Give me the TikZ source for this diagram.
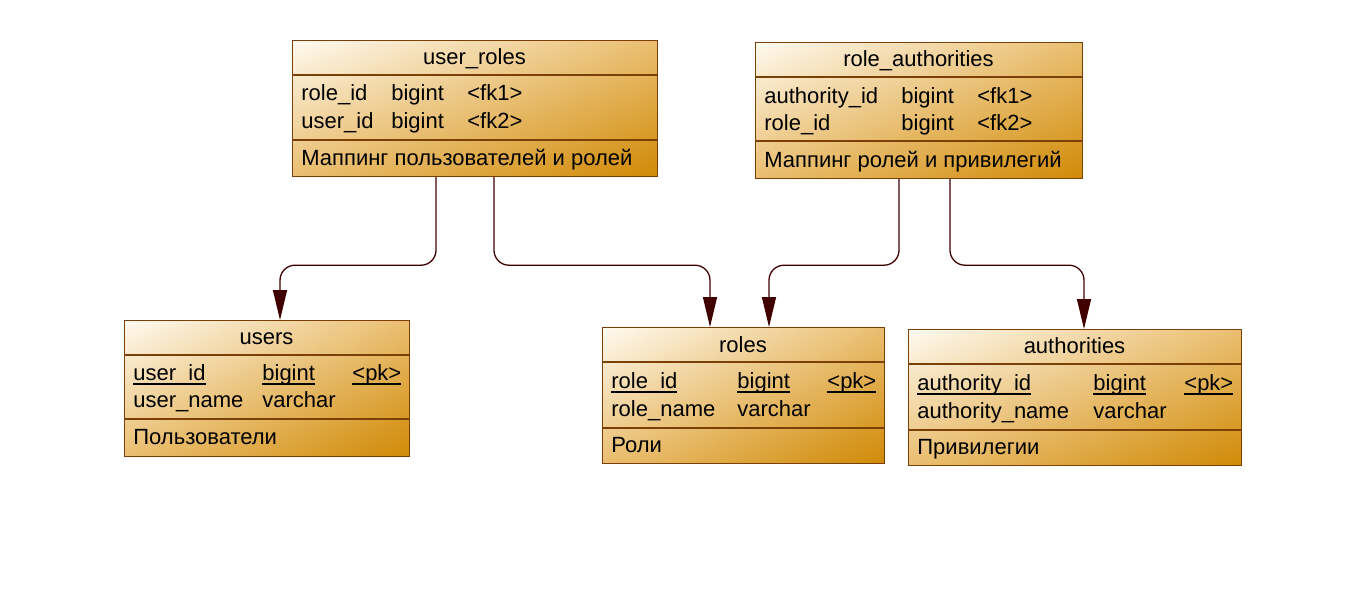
\documentclass[tikz,border=0pt]{standalone}
\usepackage{fontspec}
\setmainfont{Liberation Sans}
\usepackage{tikz}
\usetikzlibrary{arrows.meta,calc,shadings}
\definecolor{tblline}{RGB}{122,64,8}
\definecolor{tbltop}{RGB}{255,250,240}
\definecolor{tblmid}{RGB}{234,190,112}
\definecolor{tblbot}{RGB}{208,138,6}
\definecolor{fkline}{RGB}{64,0,0}
\newcommand\pkul[1]{\leavevmode\setbox0\hbox{#1}\rlap{\rule[-2.3pt]{\wd0}{0.9pt}}\box0}

\begin{document}
\begin{tikzpicture}[
    x=0.5pt, y=-0.5pt,
    tbl/.style={draw=tblline, line width=0.6pt, shade, upper left=tbltop, upper right=tblmid,
        lower left=tblmid, lower right=tblbot, anchor=north west, inner sep=0pt,
        minimum width=#1, minimum height=68pt},
    sep/.style={draw=tblline, line width=0.6pt},
    txt/.style={font=\fontsize{11}{12}\selectfont, inner sep=0pt, text height=2ex, text depth=.45ex},
    row/.style={txt, anchor=west},
    fk/.style={draw=fkline, line width=0.65pt, rounded corners=7.5pt, -{Triangle[length=15pt,width=7pt]}}
]
    \useasboundingbox (0,0) rectangle (1371,599);

    % user_roles
    \node[tbl=182.5pt] (ur) at (292,40) {};
    \draw[sep] (292,75) -- (657,75);
    \draw[sep] (292,140) -- (657,140);
    \node[txt] (ur-t) at (474.5,56) {user\_roles};
    \node[row] (ur-1) at (301,92) {\makebox[45pt][l]{role\_id}\makebox[38pt][l]{bigint}<fk1>};
    \node[row] (ur-2) at (301,120) {\makebox[45pt][l]{user\_id}\makebox[38pt][l]{bigint}<fk2>};
    \node[row] (ur-c) at (301,157) {Маппинг пользователей и ролей};

    % role_authorities
    \node[tbl=163.5pt] (ra) at (755,42) {};
    \draw[sep] (755,77) -- (1082,77);
    \draw[sep] (755,141) -- (1082,141);
    \node[txt] (ra-t) at (918.5,58) {role\_authorities};
    \node[row] (ra-1) at (764,95) {\makebox[68.5pt][l]{authority\_id}\makebox[38pt][l]{bigint}<fk1>};
    \node[row] (ra-2) at (764,122) {\makebox[68.5pt][l]{role\_id}\makebox[38pt][l]{bigint}<fk2>};
    \node[row] (ra-c) at (764,159) {Маппинг ролей и привилегий};

    % users
    \node[tbl=142.5pt] (users) at (124,320) {};
    \draw[sep] (124,355) -- (409,355);
    \draw[sep] (124,419) -- (409,419);
    \node[txt] (users-t) at (266.5,336) {users};
    \node[row] (users-1) at (133,372) {\makebox[64.5pt][l]{\pkul{user\_id}}\makebox[45pt][l]{\pkul{bigint}}\pkul{<pk>}};
    \node[row] (users-2) at (133,399) {\makebox[64.5pt][l]{user\_name}varchar};
    \node[row] (users-c) at (133,436) {Пользователи};

    % roles
    \node[tbl=141pt] (roles) at (602,327) {};
    \draw[sep] (602,362) -- (884,362);
    \draw[sep] (602,428) -- (884,428);
    \node[txt] (roles-t) at (743,344) {roles};
    \node[row] (roles-1) at (611,380) {\makebox[63pt][l]{\pkul{role\_id}}\makebox[45pt][l]{\pkul{bigint}}\pkul{<pk>}};
    \node[row] (roles-2) at (611,408) {\makebox[63pt][l]{role\_name}varchar};
    \node[row] (roles-c) at (611,444) {Роли};

    % authorities
    \node[tbl=166.5pt] (auth) at (908,329) {};
    \draw[sep] (908,364) -- (1241,364);
    \draw[sep] (908,430) -- (1241,430);
    \node[txt] (auth-t) at (1074.5,345) {authorities};
    \node[row] (auth-1) at (917,382) {\makebox[88pt][l]{\pkul{authority\_id}}\makebox[45.5pt][l]{\pkul{bigint}}\pkul{<pk>}};
    \node[row] (auth-2) at (917,410) {\makebox[88pt][l]{authority\_name}varchar};
    \node[row] (auth-c) at (917,446) {Привилегии};

    % references
    \draw[fk] ($(ur.south west)+(144,0)$) -- ++(0,88) -| ($(users.north west)+(156,0)$);
    \draw[fk] ($(ur.south west)+(202,0)$) -- ++(0,88) -| ($(roles.north west)+(108,0)$);
    \draw[fk] ($(ra.south west)+(144,0)$) -- ++(0,86) -| ($(roles.north west)+(167,0)$);
    \draw[fk] ($(ra.south west)+(195,0)$) -- ++(0,86) -| ($(auth.north west)+(176,0)$);
\end{tikzpicture}
\end{document}
